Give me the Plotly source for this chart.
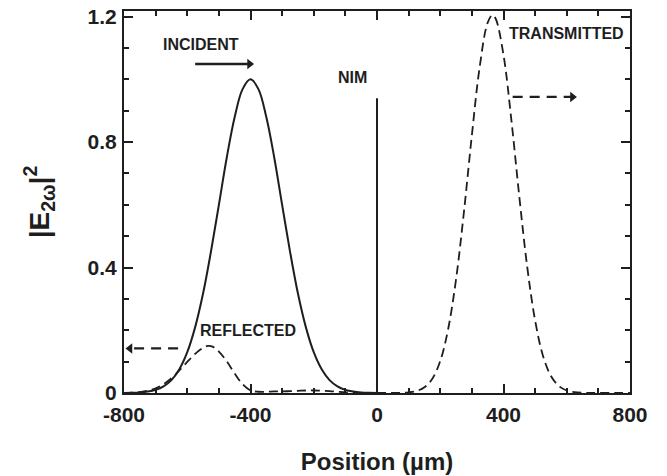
import plotly.graph_objects as go

# Pulse intensity profiles along the propagation axis (µm)
incident_x = [-800, -775, -750, -725, -700, -675, -650, -625, -600, -575, -550,
              -525, -500, -475, -450, -425, -400, -375, -350, -325, -300, -275,
              -250, -225, -200, -175, -150, -125, -100, -75, -50, -25, 0]
incident_y = [0.0003, 0.0008, 0.0019, 0.0046, 0.0101, 0.0211, 0.0412, 0.0756,
              0.130, 0.210, 0.317, 0.451, 0.600, 0.751, 0.880, 0.969, 1.000,
              0.969, 0.880, 0.751, 0.600, 0.451, 0.317, 0.210, 0.130, 0.0756,
              0.0412, 0.0211, 0.0101, 0.0046, 0.0019, 0.0008, 0.0003]

reflected_x = [-800, -775, -750, -725, -700, -675, -650, -625, -600, -575, -550,
               -535, -520, -500, -475, -450, -425, -400, -375, -350, -325, -300,
               -275, -250, -225, -200, -175, -150, -125, -100, -75, -50, 0]
reflected_y = [0.0, 0.001, 0.003, 0.007, 0.015, 0.028, 0.047, 0.072, 0.099,
               0.125, 0.144, 0.150, 0.148, 0.132, 0.101, 0.062, 0.028, 0.008,
               0.004, 0.004, 0.005, 0.005, 0.006, 0.007, 0.008, 0.008, 0.007,
               0.006, 0.004, 0.002, 0.001, 0.0, 0.0]

transmitted_x = [0, 25, 50, 75, 100, 125, 150, 175, 200, 225, 250, 275, 300,
                 325, 350, 365, 375, 400, 425, 450, 475, 500, 525, 550, 575,
                 600, 625, 650, 675, 700, 750, 800]
transmitted_y = [0.0, 0.0, 0.0001, 0.0006, 0.0021, 0.0065, 0.0182, 0.0456,
                 0.102, 0.204, 0.363, 0.578, 0.822, 1.042, 1.181, 1.205, 1.194,
                 1.078, 0.869, 0.626, 0.402, 0.231, 0.118, 0.054, 0.0221,
                 0.0080, 0.0026, 0.0008, 0.0002, 0.0, 0.0, 0.0]

# Interface of the negative-index slab
nim_x = [0, 0]
nim_y = [0, 0.94]

# Direction arrows: (tail x, tip x, y)
incident_arrow = (-575, -403, 1.049)
reflected_arrow = (-629, -781, 0.142)
transmitted_arrow = (429, 618, 0.944)

# Text labels: (text, x, y)
labels = [("INCIDENT", -556, 1.111),
          ("NIM", -76, 1.006),
          ("TRANSMITTED", 600, 1.145),
          ("REFLECTED", -409, 0.198)]

# Axis ticks
x_ticks = [-800, -400, 0, 400, 800]
x_ticktext = ["-800", "-400", "0", "400", "800"]
y_ticks = [0, 0.4, 0.8, 1.2]
y_ticktext = ["0", "0.4", "0.8", "1.2"]

INK = "#1e1e1e"
FONT = "Liberation Sans, Arial, sans-serif"

fig = go.Figure()

fig.add_trace(go.Scatter(x=incident_x, y=incident_y, mode="lines",
                         line=dict(color=INK, width=2, shape="spline"),
                         showlegend=False))
fig.add_trace(go.Scatter(x=reflected_x, y=reflected_y, mode="lines",
                         line=dict(color=INK, width=1.8, dash="9px,5px",
                                   shape="spline"),
                         showlegend=False))
fig.add_trace(go.Scatter(x=transmitted_x, y=transmitted_y, mode="lines",
                         line=dict(color=INK, width=1.8, dash="9px,5px",
                                   shape="spline"),
                         showlegend=False))
fig.add_trace(go.Scatter(x=nim_x, y=nim_y, mode="lines",
                         line=dict(color=INK, width=2), showlegend=False))

# Direction arrows: shaft plus triangular head
for (x0, x1, yy), sym, dash in ((incident_arrow, "triangle-right", "solid"),
                                (reflected_arrow, "triangle-left", "10px,7px"),
                                (transmitted_arrow, "triangle-right", "10px,7px")):
    fig.add_trace(go.Scatter(x=[x0, x1], y=[yy, yy], mode="lines",
                             line=dict(color=INK, width=2.3, dash=dash),
                             showlegend=False))
    fig.add_trace(go.Scatter(x=[x1], y=[yy], mode="markers",
                             marker=dict(symbol=sym, size=9, color=INK),
                             showlegend=False))

for txt, lx, ly in labels:
    fig.add_annotation(x=lx, y=ly, text=txt, showarrow=False,
                       font=dict(family=FONT, size=16, color=INK,
                                 weight="bold"))

axis_common = dict(
    showline=True, linewidth=2, linecolor=INK, mirror="ticks",
    ticks="inside", ticklen=9, tickwidth=1.5, tickcolor=INK,
    showgrid=False, zeroline=False, tickmode="array", automargin=False,
    tickfont=dict(family=FONT, size=21, color=INK, weight="bold"),
)

fig.update_xaxes(range=[-800, 800], tickvals=x_ticks, ticktext=x_ticktext,
                 minor=dict(dtick=100, tick0=-800, ticklen=5, ticks="inside",
                            tickcolor=INK, tickwidth=1.5),
                 ticklabelstandoff=2,
                 title=dict(text="Position (µm)", standoff=28,
                            font=dict(family=FONT, size=24, color=INK,
                                      weight="bold")),
                 **axis_common)
fig.update_yaxes(range=[0, 1.218], tickvals=y_ticks, ticktext=y_ticktext,
                 minor=dict(dtick=0.1, tick0=0, ticklen=5, ticks="inside",
                            tickcolor=INK, tickwidth=1.5),
                 ticklabelstandoff=1,
                 title=dict(text="|E<sub>2ω</sub>|<sup>2</sup>", standoff=30,
                            font=dict(family=FONT, size=28, color=INK,
                                      weight="bold")),
                 **axis_common)

fig.update_layout(width=667, height=476,
                  margin=dict(l=124, r=37, t=11, b=83),
                  paper_bgcolor="white", plot_bgcolor="white")

fig.write_html("out.html")
